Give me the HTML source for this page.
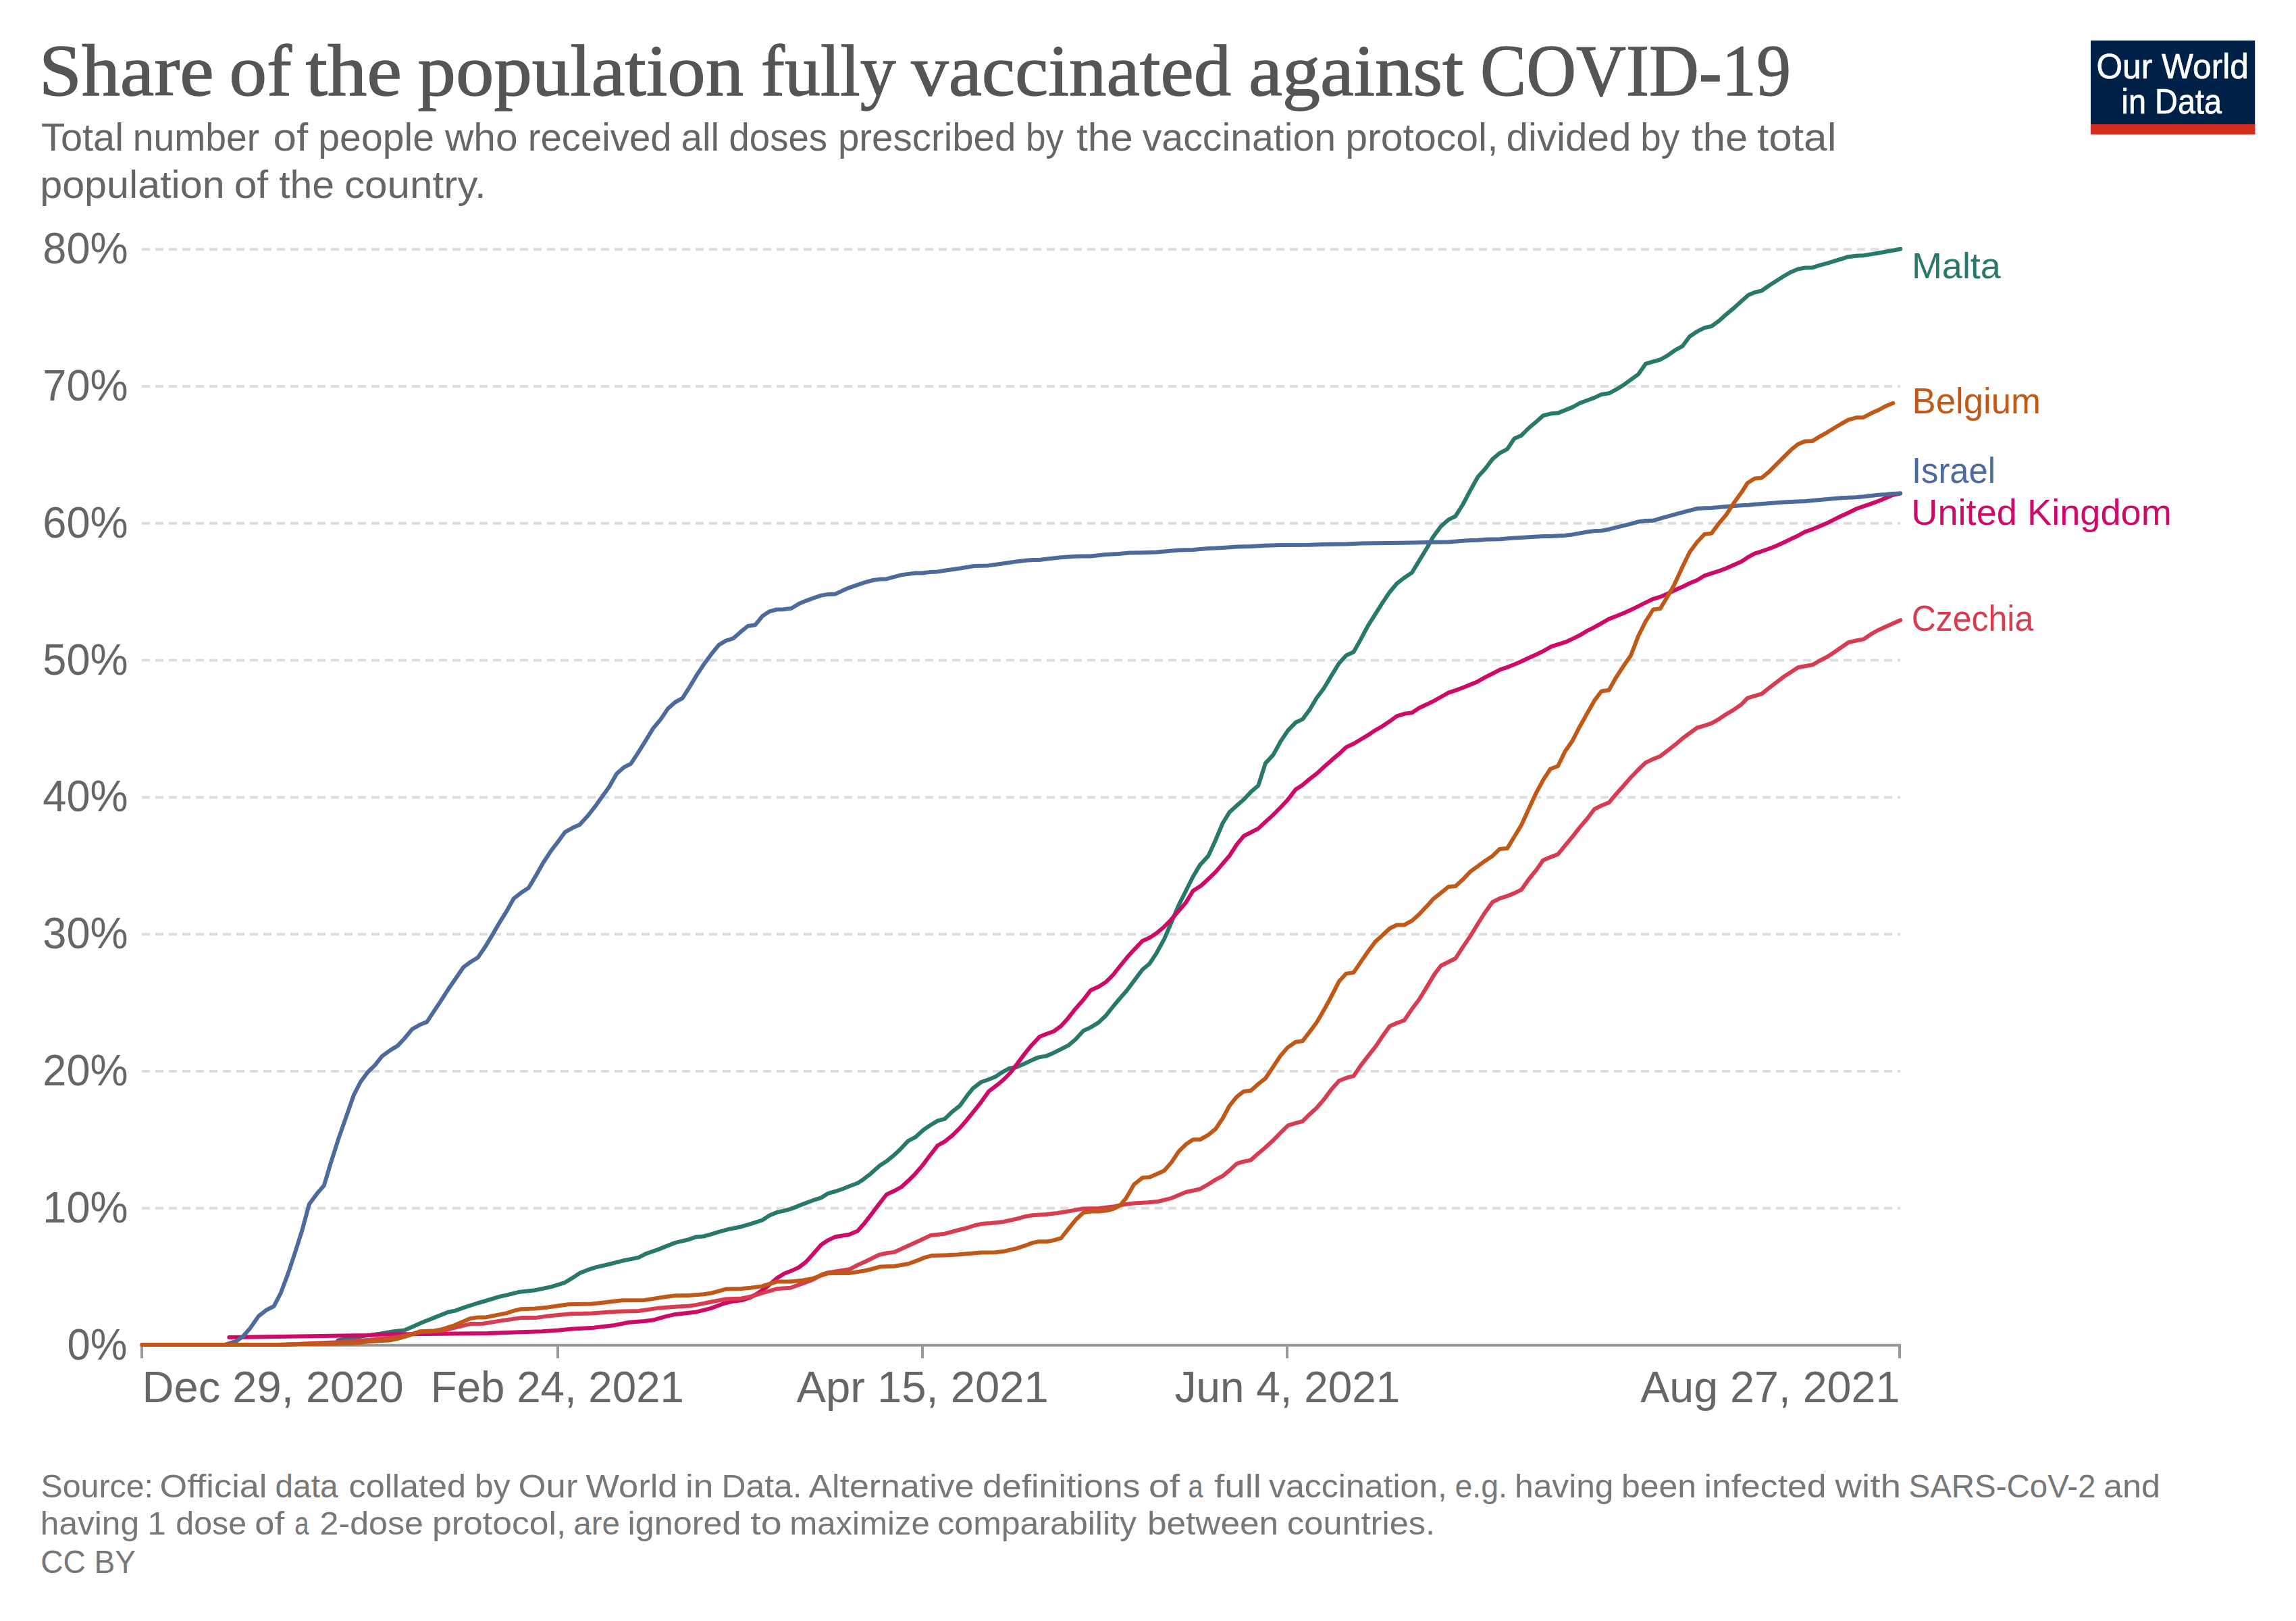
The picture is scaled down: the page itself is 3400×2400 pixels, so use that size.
<!DOCTYPE html>
<html><head><meta charset="utf-8"><title>Share of the population fully vaccinated against COVID-19</title>
<style>html,body{margin:0;padding:0;background:#fff}svg{display:block}</style></head>
<body><svg width="3400" height="2400" viewBox="0 0 3400 2400">
<rect width="3400" height="2400" fill="#fff"/>
<g font-family='"Liberation Serif", serif' font-size="107" fill="#555" stroke="#555" stroke-width="1.3">
<text x="57.7" y="141.4" textLength="259.1" lengthAdjust="spacingAndGlyphs">Share</text>
<text x="339.4" y="141.4" textLength="92.6" lengthAdjust="spacingAndGlyphs">of</text>
<text x="452.6" y="141.4" textLength="142.5" lengthAdjust="spacingAndGlyphs">the</text>
<text x="618.6" y="141.4" textLength="482.5" lengthAdjust="spacingAndGlyphs">population</text>
<text x="1126.7" y="141.4" textLength="200.0" lengthAdjust="spacingAndGlyphs">fully</text>
<text x="1349.2" y="141.4" textLength="474.1" lengthAdjust="spacingAndGlyphs">vaccinated</text>
<text x="1848.9" y="141.4" textLength="318.4" lengthAdjust="spacingAndGlyphs">against</text>
<text x="2192.1" y="141.4" textLength="459.9" lengthAdjust="spacingAndGlyphs">COVID-19</text>
</g>
<g font-family='"Liberation Sans", sans-serif' font-size="58" fill="#666">
<text x="61.0" y="223.2" textLength="122.0" lengthAdjust="spacingAndGlyphs">Total</text>
<text x="196.7" y="223.2" textLength="187.5" lengthAdjust="spacingAndGlyphs">number</text>
<text x="404.6" y="223.2" textLength="51.7" lengthAdjust="spacingAndGlyphs">of</text>
<text x="471.3" y="223.2" textLength="171.7" lengthAdjust="spacingAndGlyphs">people</text>
<text x="658.9" y="223.2" textLength="107.7" lengthAdjust="spacingAndGlyphs">who</text>
<text x="781.7" y="223.2" textLength="213.0" lengthAdjust="spacingAndGlyphs">received</text>
<text x="1008.5" y="223.2" textLength="56.7" lengthAdjust="spacingAndGlyphs">all</text>
<text x="1079.5" y="223.2" textLength="145.6" lengthAdjust="spacingAndGlyphs">doses</text>
<text x="1240.9" y="223.2" textLength="263.5" lengthAdjust="spacingAndGlyphs">prescribed</text>
<text x="1519.0" y="223.2" textLength="56.1" lengthAdjust="spacingAndGlyphs">by</text>
<text x="1594.0" y="223.2" textLength="83.9" lengthAdjust="spacingAndGlyphs">the</text>
<text x="1691.7" y="223.2" textLength="286.5" lengthAdjust="spacingAndGlyphs">vaccination</text>
<text x="1992.3" y="223.2" textLength="226.3" lengthAdjust="spacingAndGlyphs">protocol,</text>
<text x="2230.5" y="223.2" textLength="185.0" lengthAdjust="spacingAndGlyphs">divided</text>
<text x="2429.3" y="223.2" textLength="57.9" lengthAdjust="spacingAndGlyphs">by</text>
<text x="2505.3" y="223.2" textLength="82.7" lengthAdjust="spacingAndGlyphs">the</text>
<text x="2602.0" y="223.2" textLength="117.5" lengthAdjust="spacingAndGlyphs">total</text>
</g>
<g font-family='"Liberation Sans", sans-serif' font-size="58" fill="#666">
<text x="59.2" y="292.5" textLength="273.5" lengthAdjust="spacingAndGlyphs">population</text>
<text x="346.7" y="292.5" textLength="50.5" lengthAdjust="spacingAndGlyphs">of</text>
<text x="413.2" y="292.5" textLength="82.0" lengthAdjust="spacingAndGlyphs">the</text>
<text x="510.0" y="292.5" textLength="209.8" lengthAdjust="spacingAndGlyphs">country.</text>
</g>
<g font-family='"Liberation Sans", sans-serif' font-size="48" fill="#777">
<text x="60.5" y="2216.6" textLength="166.5" lengthAdjust="spacingAndGlyphs">Source:</text>
<text x="236.5" y="2216.6" textLength="159.0" lengthAdjust="spacingAndGlyphs">Official</text>
<text x="407.5" y="2216.6" textLength="93.0" lengthAdjust="spacingAndGlyphs">data</text>
<text x="516.5" y="2216.6" textLength="173.5" lengthAdjust="spacingAndGlyphs">collated</text>
<text x="703.0" y="2216.6" textLength="52.5" lengthAdjust="spacingAndGlyphs">by</text>
<text x="767.5" y="2216.6" textLength="88.0" lengthAdjust="spacingAndGlyphs">Our</text>
<text x="867.5" y="2216.6" textLength="136.0" lengthAdjust="spacingAndGlyphs">World</text>
<text x="1015.0" y="2216.6" textLength="41.5" lengthAdjust="spacingAndGlyphs">in</text>
<text x="1068.5" y="2216.6" textLength="119.0" lengthAdjust="spacingAndGlyphs">Data.</text>
<text x="1197.5" y="2216.6" textLength="245.0" lengthAdjust="spacingAndGlyphs">Alternative</text>
<text x="1455.0" y="2216.6" textLength="233.5" lengthAdjust="spacingAndGlyphs">definitions</text>
<text x="1701.0" y="2216.6" textLength="46.0" lengthAdjust="spacingAndGlyphs">of</text>
<text x="1759.5" y="2216.6" textLength="22.0" lengthAdjust="spacingAndGlyphs">a</text>
<text x="1798.0" y="2216.6" textLength="70.0" lengthAdjust="spacingAndGlyphs">full</text>
<text x="1879.0" y="2216.6" textLength="264.0" lengthAdjust="spacingAndGlyphs">vaccination,</text>
<text x="2154.5" y="2216.6" textLength="77.5" lengthAdjust="spacingAndGlyphs">e.g.</text>
<text x="2243.0" y="2216.6" textLength="146.5" lengthAdjust="spacingAndGlyphs">having</text>
<text x="2401.0" y="2216.6" textLength="111.0" lengthAdjust="spacingAndGlyphs">been</text>
<text x="2523.5" y="2216.6" textLength="181.0" lengthAdjust="spacingAndGlyphs">infected</text>
<text x="2717.5" y="2216.6" textLength="97.5" lengthAdjust="spacingAndGlyphs">with</text>
<text x="2826.5" y="2216.6" textLength="277.0" lengthAdjust="spacingAndGlyphs">SARS-CoV-2</text>
<text x="3115.0" y="2216.6" textLength="84.0" lengthAdjust="spacingAndGlyphs">and</text>
</g>
<g font-family='"Liberation Sans", sans-serif' font-size="48" fill="#777">
<text x="59.8" y="2272.4" textLength="146.3" lengthAdjust="spacingAndGlyphs">having</text>
<text x="218.6" y="2272.4" textLength="27.3" lengthAdjust="spacingAndGlyphs">1</text>
<text x="260.3" y="2272.4" textLength="104.8" lengthAdjust="spacingAndGlyphs">dose</text>
<text x="377.3" y="2272.4" textLength="43.8" lengthAdjust="spacingAndGlyphs">of</text>
<text x="436.2" y="2272.4" textLength="21.2" lengthAdjust="spacingAndGlyphs">a</text>
<text x="473.6" y="2272.4" textLength="153.3" lengthAdjust="spacingAndGlyphs">2-dose</text>
<text x="640.0" y="2272.4" textLength="198.4" lengthAdjust="spacingAndGlyphs">protocol,</text>
<text x="849.3" y="2272.4" textLength="68.7" lengthAdjust="spacingAndGlyphs">are</text>
<text x="929.6" y="2272.4" textLength="167.9" lengthAdjust="spacingAndGlyphs">ignored</text>
<text x="1111.2" y="2272.4" textLength="46.4" lengthAdjust="spacingAndGlyphs">to</text>
<text x="1169.2" y="2272.4" textLength="207.6" lengthAdjust="spacingAndGlyphs">maximize</text>
<text x="1388.3" y="2272.4" textLength="294.7" lengthAdjust="spacingAndGlyphs">comparability</text>
<text x="1698.9" y="2272.4" textLength="194.2" lengthAdjust="spacingAndGlyphs">between</text>
<text x="1906.1" y="2272.4" textLength="218.9" lengthAdjust="spacingAndGlyphs">countries.</text>
</g>
<rect x="3096" y="60" width="243.2" height="139" fill="#002147"/>
<rect x="3096" y="184" width="243.2" height="15" fill="#d42b21"/>
<text x="3104.4" y="116" font-size="52" fill="#fff" font-family='"Liberation Sans", sans-serif' text-anchor="start" textLength="225.5" lengthAdjust="spacingAndGlyphs" stroke="#fff" stroke-width="0.7">Our World</text>
<text x="3141.6" y="167.8" font-size="52" fill="#fff" font-family='"Liberation Sans", sans-serif' text-anchor="start" textLength="148.4" lengthAdjust="spacingAndGlyphs" stroke="#fff" stroke-width="0.7">in Data</text>
<line x1="210" y1="1788.8" x2="2814" y2="1788.8" stroke="#ddd" stroke-width="4" stroke-dasharray="12,8"/>
<line x1="210" y1="1586.0" x2="2814" y2="1586.0" stroke="#ddd" stroke-width="4" stroke-dasharray="12,8"/>
<line x1="210" y1="1383.2" x2="2814" y2="1383.2" stroke="#ddd" stroke-width="4" stroke-dasharray="12,8"/>
<line x1="210" y1="1180.4" x2="2814" y2="1180.4" stroke="#ddd" stroke-width="4" stroke-dasharray="12,8"/>
<line x1="210" y1="977.6" x2="2814" y2="977.6" stroke="#ddd" stroke-width="4" stroke-dasharray="12,8"/>
<line x1="210" y1="774.8" x2="2814" y2="774.8" stroke="#ddd" stroke-width="4" stroke-dasharray="12,8"/>
<line x1="210" y1="572.0" x2="2814" y2="572.0" stroke="#ddd" stroke-width="4" stroke-dasharray="12,8"/>
<line x1="210" y1="369.2" x2="2814" y2="369.2" stroke="#ddd" stroke-width="4" stroke-dasharray="12,8"/>
<text x="188.6" y="2012.6" font-size="65" fill="#666" font-family='"Liberation Sans", sans-serif' text-anchor="end" textLength="89" lengthAdjust="spacingAndGlyphs">0%</text>
<text x="189.6" y="1809.8" font-size="65" fill="#666" font-family='"Liberation Sans", sans-serif' text-anchor="end" textLength="126.3" lengthAdjust="spacingAndGlyphs">10%</text>
<text x="189.6" y="1607.0" font-size="65" fill="#666" font-family='"Liberation Sans", sans-serif' text-anchor="end" textLength="126.3" lengthAdjust="spacingAndGlyphs">20%</text>
<text x="189.6" y="1404.2" font-size="65" fill="#666" font-family='"Liberation Sans", sans-serif' text-anchor="end" textLength="126.3" lengthAdjust="spacingAndGlyphs">30%</text>
<text x="189.6" y="1201.4" font-size="65" fill="#666" font-family='"Liberation Sans", sans-serif' text-anchor="end" textLength="126.3" lengthAdjust="spacingAndGlyphs">40%</text>
<text x="189.6" y="998.6" font-size="65" fill="#666" font-family='"Liberation Sans", sans-serif' text-anchor="end" textLength="126.3" lengthAdjust="spacingAndGlyphs">50%</text>
<text x="189.6" y="795.8" font-size="65" fill="#666" font-family='"Liberation Sans", sans-serif' text-anchor="end" textLength="126.3" lengthAdjust="spacingAndGlyphs">60%</text>
<text x="189.6" y="593.0" font-size="65" fill="#666" font-family='"Liberation Sans", sans-serif' text-anchor="end" textLength="126.3" lengthAdjust="spacingAndGlyphs">70%</text>
<text x="189.6" y="390.2" font-size="65" fill="#666" font-family='"Liberation Sans", sans-serif' text-anchor="end" textLength="126.3" lengthAdjust="spacingAndGlyphs">80%</text>
<line x1="208" y1="1991.7" x2="2815" y2="1991.7" stroke="#999" stroke-width="4"/>
<line x1="210" y1="1991.7" x2="210" y2="2011" stroke="#999" stroke-width="4"/>
<line x1="826" y1="1991.7" x2="826" y2="2011" stroke="#999" stroke-width="4"/>
<line x1="1366" y1="1991.7" x2="1366" y2="2011" stroke="#999" stroke-width="4"/>
<line x1="1906" y1="1991.7" x2="1906" y2="2011" stroke="#999" stroke-width="4"/>
<line x1="2813" y1="1991.7" x2="2813" y2="2011" stroke="#999" stroke-width="4"/>
<text x="210.5" y="2075.5" font-size="64" fill="#666" font-family='"Liberation Sans", sans-serif' text-anchor="start" textLength="387.2" lengthAdjust="spacingAndGlyphs">Dec 29, 2020</text>
<text x="637.8" y="2075.5" font-size="64" fill="#666" font-family='"Liberation Sans", sans-serif' text-anchor="start" textLength="375.2" lengthAdjust="spacingAndGlyphs">Feb 24, 2021</text>
<text x="1179.5" y="2075.5" font-size="64" fill="#666" font-family='"Liberation Sans", sans-serif' text-anchor="start" textLength="373.2" lengthAdjust="spacingAndGlyphs">Apr 15, 2021</text>
<text x="1739.7" y="2075.5" font-size="64" fill="#666" font-family='"Liberation Sans", sans-serif' text-anchor="start" textLength="333.5" lengthAdjust="spacingAndGlyphs">Jun 4, 2021</text>
<text x="2429.3" y="2075.5" font-size="64" fill="#666" font-family='"Liberation Sans", sans-serif' text-anchor="start" textLength="384" lengthAdjust="spacingAndGlyphs">Aug 27, 2021</text>
<polyline points="500.3,1984.5 520.6,1981.0 541.5,1977.6 562.4,1974.8 583.3,1971.3 599.0,1969.5 611.1,1964.3 625.1,1958.0 644.3,1950.4 663.4,1942.7 673.9,1940.6 687.8,1935.7 707.0,1929.5 719.2,1926.0 738.3,1920.1 750.5,1917.3 767.9,1913.1 792.3,1910.3 816.7,1905.1 835.9,1899.2 846.3,1892.9 858.5,1884.9 869.0,1880.7 882.9,1876.2 896.9,1873.0 921.3,1866.8 945.6,1861.9 956.1,1856.3 973.5,1850.4 1000.0,1839.9 1019.2,1835.4 1031.4,1831.2 1041.8,1830.5 1052.3,1827.7 1064.5,1823.9 1080.1,1819.7 1097.6,1816.2 1111.5,1812.1 1128.9,1806.5 1139.4,1799.5 1151.6,1794.6 1160.3,1792.9 1172.5,1789.4 1188.2,1783.1 1203.8,1777.2 1216.0,1773.4 1226.5,1766.8 1236.9,1764.0 1247.4,1760.5 1257.8,1756.3 1270.0,1751.8 1278.7,1745.9 1289.2,1737.8 1303.1,1725.6 1313.6,1718.7 1322.3,1711.7 1332.8,1702.0 1344.9,1689.1 1355.4,1683.8 1367.6,1672.7 1378.0,1665.7 1388.5,1659.4 1399.0,1656.7 1409.4,1646.6 1421.6,1636.8 1432.1,1622.2 1440.8,1611.4 1453.0,1602.0 1463.4,1598.5 1473.9,1594.3 1486.1,1586.3 1494.8,1581.7 1505.2,1580.0 1517.4,1574.8 1529.6,1568.9 1538.3,1565.4 1548.8,1563.6 1557.5,1560.1 1571.4,1553.2 1581.9,1547.9 1592.3,1539.2 1604.5,1526.0 1615.0,1521.1 1626.5,1514.1 1637.6,1503.7 1648.1,1490.5 1656.8,1480.0 1669.0,1466.0 1679.4,1452.1 1691.6,1435.7 1702.1,1427.0 1712.5,1411.3 1724.0,1390.4 1735.2,1364.3 1745.6,1339.9 1756.1,1319.0 1766.6,1298.0 1777.0,1280.6 1789.2,1267.4 1800.0,1244.0 1810.5,1219.0 1820.9,1202.2 1831.4,1192.8 1841.8,1183.8 1852.3,1172.6 1863.4,1162.9 1873.9,1130.1 1885.4,1117.6 1895.8,1098.7 1907.3,1081.3 1918.5,1069.8 1928.9,1064.9 1939.4,1050.7 1949.8,1033.2 1960.3,1019.3 1970.7,1001.9 1982.9,982.0 1993.4,970.5 2004.5,965.3 2014.3,947.9 2025.8,926.3 2036.9,908.8 2047.4,892.1 2057.8,876.7 2068.3,864.2 2079.4,855.5 2090.9,847.8 2101.4,830.4 2113.6,810.5 2122.3,794.8 2133.8,779.2 2144.9,769.4 2155.4,764.2 2165.9,747.5 2177.4,725.9 2188.5,706.0 2199.0,694.5 2210.1,679.9 2220.9,670.8 2232.1,664.9 2242.5,649.2 2253.0,644.7 2264.1,633.5 2274.6,624.8 2285.0,615.4 2295.8,612.6 2307.0,611.6 2317.4,607.4 2328.6,602.9 2339.4,596.9 2350.5,592.8 2361.0,588.9 2371.4,584.0 2382.6,582.3 2393.4,576.7 2404.5,569.8 2415.0,562.1 2426.1,554.1 2436.9,538.7 2448.1,535.3 2458.5,532.5 2469.0,526.6 2479.4,519.2 2491.6,512.3 2502.1,498.3 2513.2,490.7 2524.0,485.4 2534.5,483.0 2545.6,475.0 2556.1,465.6 2566.6,456.9 2578.7,446.1 2589.2,436.7 2598.2,432.9 2608.7,430.5 2619.3,423.0 2630.8,415.7 2641.3,409.0 2651.9,402.9 2662.4,398.5 2672.9,396.5 2684.1,396.2 2695.0,392.7 2705.5,389.8 2716.1,386.6 2726.6,383.5 2737.1,380.2 2748.6,378.7 2759.6,378.3 2770.7,376.4 2781.2,374.7 2792.7,372.6 2803.3,370.7 2814.2,368.7" fill="none" stroke="#28796b" stroke-width="6" stroke-linejoin="round" stroke-linecap="round"/>
<polyline points="339.4,1980.0 443.9,1978.6 548.4,1976.9 562.4,1975.8 653.0,1974.8 722.6,1974.1 757.5,1972.7 802.8,1971.3 827.2,1969.5 844.6,1967.8 879.4,1965.7 891.6,1964.3 910.8,1961.9 931.7,1957.7 954.4,1956.0 966.6,1954.6 984.0,1949.7 1000.0,1945.9 1017.4,1944.1 1031.4,1942.4 1052.3,1937.1 1073.2,1929.5 1085.4,1926.7 1099.3,1924.9 1111.5,1920.8 1123.7,1913.8 1135.9,1905.1 1149.8,1892.9 1162.0,1885.2 1172.5,1881.4 1182.9,1876.5 1193.4,1868.5 1203.8,1857.0 1216.0,1843.1 1226.5,1836.1 1236.9,1831.2 1247.4,1829.5 1257.8,1827.7 1270.0,1822.5 1278.7,1812.8 1290.9,1797.1 1301.4,1783.1 1312.9,1768.5 1324.0,1763.3 1334.5,1757.7 1344.9,1748.3 1355.4,1737.8 1365.9,1725.6 1376.3,1711.7 1388.5,1696.0 1399.0,1690.1 1411.1,1680.3 1421.6,1669.9 1432.1,1657.7 1442.5,1644.8 1453.0,1631.6 1464.1,1615.9 1475.6,1607.2 1486.1,1598.5 1496.5,1588.0 1507.0,1574.1 1517.4,1560.1 1527.9,1547.2 1539.4,1535.1 1550.5,1530.5 1560.3,1527.0 1571.4,1519.0 1581.9,1507.2 1592.3,1493.9 1604.5,1480.0 1615.0,1466.3 1627.2,1460.8 1637.6,1454.1 1648.1,1443.7 1658.5,1430.5 1669.0,1417.6 1679.4,1406.1 1691.6,1393.2 1702.1,1388.6 1712.5,1381.7 1723.0,1373.0 1733.4,1362.5 1745.6,1348.6 1756.1,1336.4 1766.6,1319.0 1778.7,1311.3 1789.2,1301.5 1800.0,1291.1 1810.5,1278.9 1820.9,1266.7 1831.4,1250.3 1841.8,1237.8 1852.3,1232.5 1863.4,1226.6 1873.9,1216.9 1885.4,1206.4 1895.8,1196.0 1906.3,1184.8 1918.5,1169.1 1928.9,1162.2 1939.4,1153.4 1949.8,1145.4 1962.0,1134.3 1972.5,1124.9 1982.9,1116.2 1993.4,1106.4 2005.6,1100.5 2016.0,1094.2 2026.5,1087.9 2036.9,1081.0 2047.4,1075.1 2057.8,1068.1 2068.3,1060.4 2080.5,1056.6 2090.9,1055.2 2101.4,1048.2 2113.6,1042.6 2124.0,1037.4 2134.5,1031.5 2144.9,1025.6 2155.4,1022.1 2165.9,1018.3 2176.3,1014.1 2188.5,1008.9 2199.0,1002.9 2209.4,997.7 2221.6,991.4 2232.1,987.9 2242.5,983.8 2253.0,979.2 2264.1,974.0 2275.6,968.8 2286.1,963.6 2296.5,957.6 2307.0,954.1 2319.2,950.3 2329.6,945.4 2340.1,940.2 2350.5,933.9 2361.0,928.7 2371.4,922.8 2382.6,916.4 2393.4,912.3 2404.5,907.7 2415.0,902.9 2426.1,897.6 2436.9,892.1 2448.1,886.8 2458.5,883.7 2469.0,879.2 2481.2,873.2 2491.6,868.7 2502.1,863.5 2513.2,859.0 2524.0,852.3 2534.5,848.9 2545.6,845.4 2556.1,841.5 2566.6,836.7 2578.7,831.4 2587.7,825.4 2598.2,819.6 2608.7,816.3 2619.3,812.5 2630.8,808.1 2641.3,803.3 2651.9,798.1 2662.4,793.2 2672.9,787.4 2684.1,783.6 2695.0,779.0 2705.5,774.6 2716.1,769.2 2726.6,764.0 2737.1,759.2 2748.6,753.5 2759.6,749.7 2770.7,745.8 2781.2,742.0 2792.7,737.2 2803.3,732.8 2814.2,730.5" fill="none" stroke="#cf0a66" stroke-width="6" stroke-linejoin="round" stroke-linecap="round"/>
<polyline points="210.5,1991.1 423.0,1990.8 499.7,1987.3 548.4,1983.8 569.3,1981.7 583.3,1980.3 604.2,1976.5 621.6,1972.3 653.0,1970.6 672.1,1966.1 696.5,1960.1 715.7,1959.8 740.1,1955.6 771.4,1951.1 792.3,1951.1 816.7,1947.9 844.6,1945.2 876.0,1944.5 914.3,1941.7 945.6,1941.0 977.0,1936.4 1000.0,1934.7 1019.2,1933.7 1031.4,1931.9 1052.3,1927.7 1073.2,1923.6 1097.6,1922.5 1111.5,1919.7 1128.9,1914.5 1151.6,1907.9 1170.7,1906.8 1184.7,1901.6 1203.8,1894.6 1217.8,1886.6 1226.5,1884.2 1243.9,1881.4 1257.8,1879.3 1270.0,1873.0 1282.2,1867.5 1301.4,1858.0 1313.6,1855.3 1324.0,1853.9 1341.5,1845.9 1362.4,1836.4 1378.0,1829.1 1399.0,1826.7 1418.1,1821.5 1432.1,1818.0 1442.5,1814.5 1453.0,1812.1 1466.9,1811.0 1486.1,1808.9 1505.2,1804.7 1517.4,1801.3 1529.6,1799.2 1548.8,1798.1 1566.2,1796.0 1585.4,1792.9 1604.5,1789.4 1627.2,1789.1 1648.1,1786.6 1662.0,1783.8 1679.4,1781.4 1700.3,1780.3 1714.3,1779.0 1733.4,1774.4 1756.1,1765.0 1777.0,1760.5 1789.2,1753.5 1800.0,1746.6 1810.5,1741.3 1820.9,1732.6 1831.4,1722.9 1841.8,1719.7 1852.3,1717.6 1862.7,1708.2 1873.2,1699.5 1884.7,1689.1 1895.8,1677.6 1907.3,1666.4 1918.5,1662.9 1928.9,1660.1 1939.4,1649.7 1949.8,1640.3 1960.3,1628.1 1970.7,1614.1 1982.9,1600.2 1993.4,1596.0 2004.5,1593.2 2014.3,1578.6 2025.8,1563.6 2036.9,1549.7 2047.4,1534.0 2057.8,1519.4 2068.3,1514.8 2079.4,1510.7 2090.9,1493.9 2101.4,1480.0 2113.6,1460.1 2124.0,1442.6 2133.8,1429.8 2144.9,1424.2 2155.4,1419.0 2165.9,1402.6 2177.4,1385.9 2188.5,1367.7 2199.0,1351.0 2210.1,1335.7 2220.9,1330.1 2232.1,1326.6 2242.5,1322.4 2253.0,1317.2 2264.1,1301.5 2274.6,1288.6 2285.0,1273.7 2295.8,1269.1 2307.0,1264.9 2317.4,1252.1 2328.6,1238.8 2339.4,1224.9 2350.5,1212.0 2361.0,1198.0 2371.4,1192.8 2382.6,1188.3 2393.4,1175.4 2404.5,1162.9 2415.0,1151.0 2426.1,1139.5 2436.9,1129.1 2448.1,1123.8 2458.5,1119.7 2469.0,1111.6 2481.2,1102.2 2491.6,1093.2 2502.1,1085.5 2513.2,1077.5 2524.0,1074.4 2534.5,1070.9 2545.6,1064.6 2556.1,1057.6 2566.6,1051.4 2578.7,1043.0 2587.7,1033.6 2598.2,1030.3 2608.7,1027.4 2619.3,1018.8 2630.8,1010.2 2641.3,1002.1 2651.9,995.2 2662.4,988.2 2672.9,986.2 2684.1,984.3 2695.0,978.0 2705.5,972.8 2716.1,965.7 2726.6,958.5 2737.1,951.2 2748.6,948.5 2759.6,946.4 2770.7,938.9 2781.2,933.0 2792.7,927.8 2803.3,923.0 2814.2,918.2" fill="none" stroke="#d73c50" stroke-width="6" stroke-linejoin="round" stroke-linecap="round"/>
<polyline points="210.5,1991.1 269.7,1991.1 332.4,1991.1 349.8,1985.9 360.3,1978.3 370.7,1966.1 382.9,1948.6 395.1,1939.2 405.6,1934.0 416.0,1913.8 426.5,1885.9 436.9,1854.6 447.4,1821.5 457.8,1783.1 470.0,1766.4 479.8,1755.3 489.2,1723.9 501.4,1685.6 513.6,1650.7 524.0,1621.1 533.8,1602.0 544.9,1587.0 555.4,1576.9 565.9,1563.6 578.0,1554.9 588.5,1548.6 599.0,1537.5 610.5,1523.6 621.6,1517.3 632.1,1513.1 642.5,1497.4 653.0,1481.7 663.4,1465.3 686.1,1432.2 696.5,1424.5 707.7,1417.6 719.2,1400.8 729.6,1383.4 740.1,1365.3 750.5,1348.6 761.0,1330.1 773.2,1320.7 782.9,1314.4 794.1,1295.6 805.2,1276.1 816.0,1259.7 827.2,1245.1 836.9,1231.8 848.1,1225.6 858.5,1221.0 870.7,1207.5 881.2,1194.2 891.6,1179.6 902.1,1164.9 913.2,1145.4 924.0,1136.0 934.1,1130.8 945.6,1113.4 956.1,1096.7 966.6,1079.2 978.7,1064.6 989.2,1048.9 1000.0,1039.5 1010.5,1033.9 1020.9,1017.6 1031.4,1000.1 1043.6,981.7 1054.0,967.7 1064.5,954.8 1074.9,948.6 1085.4,945.4 1095.8,936.4 1107.3,927.0 1118.5,925.2 1128.9,912.3 1139.4,905.3 1149.8,902.5 1160.3,902.2 1171.8,900.8 1182.9,894.1 1193.4,889.6 1205.6,885.1 1216.0,881.6 1226.5,879.9 1236.9,879.5 1247.4,874.6 1257.8,870.1 1270.0,865.9 1280.5,862.4 1292.7,859.0 1303.1,857.6 1312.9,857.2 1324.0,854.1 1334.5,851.3 1344.9,849.9 1355.4,848.5 1365.9,848.5 1376.3,847.1 1388.5,846.4 1399.0,844.7 1421.6,841.5 1442.5,838.0 1463.4,837.4 1486.1,834.2 1505.2,831.4 1519.2,829.7 1529.6,829.0 1539.4,829.0 1550.5,827.6 1571.4,825.2 1592.3,823.8 1604.5,823.4 1615.0,823.4 1637.6,821.0 1656.8,819.9 1672.5,818.5 1691.6,818.2 1712.5,817.5 1724.0,816.4 1745.6,814.4 1766.6,814.0 1789.2,811.9 1800.0,811.6 1810.5,810.9 1831.4,809.5 1852.3,809.1 1873.2,807.7 1897.6,807.0 1939.4,806.7 1960.3,806.0 1993.4,805.6 2016.0,804.6 2036.9,804.3 2057.8,803.9 2090.9,803.6 2113.6,802.9 2144.9,802.5 2165.9,800.8 2177.4,800.1 2188.5,799.7 2199.0,798.7 2220.9,798.3 2242.5,796.6 2264.1,795.2 2285.0,794.1 2295.8,794.1 2317.4,792.8 2328.6,791.4 2350.5,787.5 2361.0,786.1 2371.4,785.8 2382.6,783.7 2404.5,778.1 2415.0,775.7 2426.1,772.5 2436.9,771.1 2448.1,770.8 2458.5,767.7 2481.2,761.4 2502.1,755.8 2513.2,753.0 2524.0,752.3 2534.5,752.0 2556.1,749.9 2578.7,748.2 2589.2,747.8 2598.2,746.8 2619.3,745.2 2641.3,743.5 2673.9,742.0 2695.0,740.1 2726.6,737.2 2748.6,736.2 2759.6,735.3 2781.2,732.8 2792.7,732.0 2803.3,730.9 2814.2,730.5" fill="none" stroke="#4c6a9c" stroke-width="6" stroke-linejoin="round" stroke-linecap="round"/>
<polyline points="210.5,1991.1 409.1,1991.1 443.9,1990.1 499.7,1989.4 524.0,1988.7 548.4,1985.9 576.3,1984.5 590.2,1981.7 604.2,1977.6 621.6,1971.3 640.8,1970.6 653.0,1968.5 672.1,1962.6 696.5,1952.1 708.7,1950.4 719.2,1950.4 736.6,1946.9 750.5,1944.1 761.0,1940.6 771.4,1938.2 792.3,1937.5 809.8,1935.7 841.1,1931.2 876.0,1930.5 900.3,1927.7 921.3,1925.3 954.4,1924.9 987.5,1919.7 1000.0,1918.3 1019.2,1918.0 1041.8,1916.2 1052.3,1914.8 1074.9,1908.6 1097.6,1907.9 1111.5,1906.8 1128.9,1904.4 1139.4,1900.9 1151.6,1897.4 1170.7,1897.4 1188.2,1895.7 1203.8,1892.9 1216.0,1888.4 1226.5,1885.2 1243.9,1884.9 1257.8,1884.9 1278.7,1881.7 1290.9,1879.0 1303.1,1875.5 1324.0,1874.8 1344.9,1871.3 1358.9,1866.1 1369.3,1861.9 1379.8,1859.1 1399.0,1858.4 1418.1,1857.4 1432.1,1856.3 1453.0,1854.6 1473.9,1854.2 1486.1,1852.8 1505.2,1848.3 1519.2,1843.8 1529.6,1839.9 1538.3,1838.2 1550.5,1838.2 1561.0,1836.1 1571.4,1833.0 1581.9,1819.7 1594.1,1804.7 1604.5,1795.3 1616.7,1793.6 1627.2,1793.6 1637.6,1792.5 1648.1,1790.1 1658.5,1784.9 1667.2,1774.4 1679.4,1753.5 1691.6,1743.8 1702.1,1743.1 1712.5,1738.5 1724.0,1733.3 1735.2,1720.4 1745.6,1704.7 1756.1,1694.3 1766.6,1687.3 1777.0,1687.3 1789.2,1680.3 1800.0,1671.6 1810.5,1656.0 1820.9,1636.8 1831.4,1623.9 1841.8,1615.9 1852.3,1614.8 1862.7,1605.4 1873.9,1596.7 1885.4,1579.3 1895.8,1563.6 1906.3,1551.4 1918.5,1542.7 1928.9,1541.3 1939.4,1527.7 1949.8,1513.8 1960.3,1495.7 1969.0,1480.0 1982.9,1453.1 1993.4,1441.6 2004.5,1439.9 2016.0,1422.8 2026.5,1407.8 2036.9,1393.9 2047.4,1384.5 2057.8,1374.7 2068.3,1369.5 2079.4,1369.5 2090.9,1363.2 2101.4,1353.8 2113.6,1340.9 2122.3,1331.1 2134.5,1321.4 2144.9,1313.0 2155.4,1312.0 2165.9,1302.6 2177.4,1290.4 2188.5,1282.4 2199.0,1274.7 2210.1,1267.4 2220.9,1256.9 2232.1,1255.9 2242.5,1238.8 2253.0,1221.4 2264.1,1197.0 2274.6,1174.4 2285.0,1155.2 2295.8,1138.5 2307.0,1134.3 2317.4,1112.7 2328.6,1096.7 2339.4,1075.7 2350.5,1055.9 2361.0,1037.4 2371.4,1023.5 2382.6,1021.7 2393.4,1002.6 2404.5,985.5 2415.0,970.5 2426.1,941.6 2436.9,920.0 2448.1,902.5 2458.5,901.1 2469.0,883.7 2478.7,867.0 2491.6,839.1 2502.1,817.5 2513.2,802.5 2524.0,791.0 2534.5,789.6 2545.6,774.6 2556.1,762.4 2566.6,746.1 2578.7,729.3 2587.7,715.2 2598.2,708.5 2608.7,707.5 2619.3,698.9 2630.8,687.4 2641.3,676.8 2651.9,666.3 2662.4,657.7 2672.9,653.4 2684.1,652.9 2695.0,646.1 2705.5,640.3 2716.1,633.8 2726.6,627.5 2737.1,621.7 2748.6,618.3 2759.6,617.9 2770.7,612.1 2781.2,607.3 2792.7,601.2 2803.3,596.8" fill="none" stroke="#c05917" stroke-width="6" stroke-linejoin="round" stroke-linecap="round"/>
<text x="2830.9" y="411.6" font-size="54" fill="#28796b" font-family='"Liberation Sans", sans-serif' text-anchor="start" textLength="132" lengthAdjust="spacingAndGlyphs">Malta</text>
<text x="2831.5" y="611.5" font-size="54" fill="#c05917" font-family='"Liberation Sans", sans-serif' text-anchor="start" textLength="190.5" lengthAdjust="spacingAndGlyphs">Belgium</text>
<text x="2831" y="714.9" font-size="54" fill="#4c6a9c" font-family='"Liberation Sans", sans-serif' text-anchor="start" textLength="124" lengthAdjust="spacingAndGlyphs">Israel</text>
<text x="2830.3" y="777.1" font-size="54" fill="#cf0a66" font-family='"Liberation Sans", sans-serif' text-anchor="start" textLength="385.6" lengthAdjust="spacingAndGlyphs">United Kingdom</text>
<text x="2830.8" y="934.2" font-size="54" fill="#d73c50" font-family='"Liberation Sans", sans-serif' text-anchor="start" textLength="180.4" lengthAdjust="spacingAndGlyphs">Czechia</text>
<text x="60.2" y="2328.7" font-size="48" fill="#777" font-family='"Liberation Sans", sans-serif' text-anchor="start" textLength="140.8" lengthAdjust="spacingAndGlyphs">CC BY</text>
</svg></body></html>
